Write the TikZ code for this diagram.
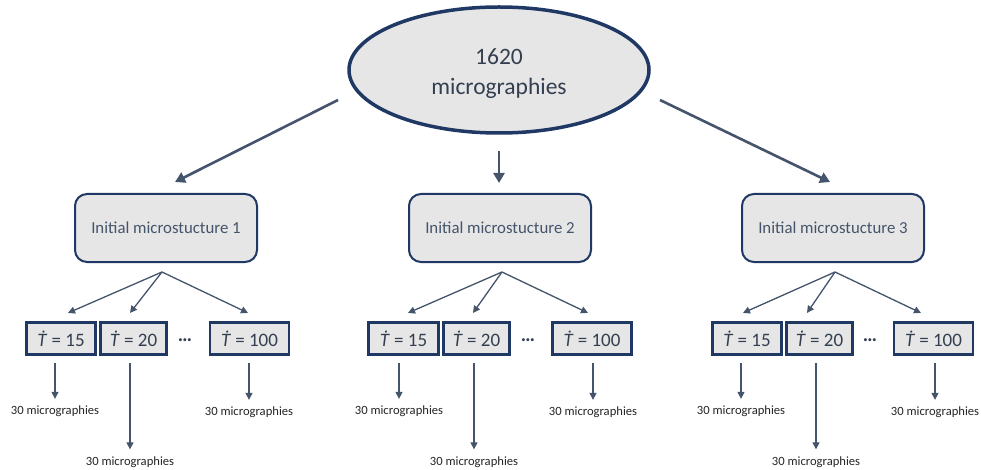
\documentclass[tikz,border=0pt]{standalone}
\usepackage{fontspec}
\setmainfont{Carlito}
\usetikzlibrary{arrows.meta,shapes.geometric,calc}
\definecolor{navy}{HTML}{1F3864}
\definecolor{slate}{HTML}{44546A}
\definecolor{boxfill}{HTML}{E7E6E6}
\definecolor{txt}{HTML}{333F50}
\begin{document}
\begin{tikzpicture}[x=1pt,y=-1pt,
 bigarrow/.style={slate, line width=2.6pt, -{Triangle[length=10pt,width=11pt]}},
 thinarrow/.style={slate, line width=1.3pt, -{Triangle[length=7pt,width=7pt]}},
 topnode/.style={ellipse, draw=navy, line width=3.5pt, fill=boxfill, minimum width=300pt, minimum height=126pt},
 toptext/.style={align=center, text=txt, font=\fontsize{23.5}{30}\selectfont},
 initbox/.style={draw=navy, line width=2pt, rounded corners=12pt, fill=boxfill, minimum width=182pt, minimum height=68pt, text=slate, font=\fontsize{16.8}{20}\selectfont},
 ratebox/.style={draw=navy, line width=2.6pt, fill=boxfill, minimum height=32.5pt, inner sep=0pt, text=txt, font=\fontsize{19}{22}\selectfont},
 lbl/.style={font=\fontsize{12.6}{15}\selectfont, text=black!85, inner sep=0pt},
 dotsnode/.style={font=\fontsize{20}{22}\selectfont\bfseries, text=txt, inner sep=0pt}]
\useasboundingbox (0,0) rectangle (981,470);
\fill[white] (0,0) rectangle (981,470);

% root
\node[topnode] (root) at (499,70) {};
\node[toptext] (roottext) at (499,74) {1620\\micrographies};

% initial boxes
\node[initbox] (i1) at (166,228) {Initial microstucture 1};
\node[initbox] (i2) at (500,228) {Initial microstucture 2};
\node[initbox] (i3) at (833,228) {Initial microstucture 3};

% big arrows
\coordinate (s1) at (338,100);
\coordinate (s3) at (660,100);
\draw[bigarrow] (s1) -- ($(i1.north)+(9,-11)$);
\draw[bigarrow] ($(root.south)+(0,16)$) -- ($(i2.north)+(-1,-10)$);
\draw[bigarrow] (s3) -- ($(i3.north)+(-3,-11)$);

% rate boxes
\foreach \g/\a/\b/\c in {1/61/133.5/249.5, 2/403.5/476.5/592, 3/747/819.5/933.5}{
  \node[ratebox, minimum width=69.5pt] (t\g1) at (\a,338.5) {\textit{Ṫ} = 15};
  \node[ratebox, minimum width=66.5pt] (t\g2) at (\b,338.5) {\textit{Ṫ} = 20};
  \node[ratebox, minimum width=79pt] (t\g3) at (\c,338.5) {\textit{Ṫ} = 100};
}
\node[dotsnode] (d1) at (185,340) {…};
\node[dotsnode] (d2) at (528,340) {…};
\node[dotsnode] (d3) at (870,340) {…};

% fans
\coordinate (f1) at (162,272);
\coordinate (f2) at (502,272);
\coordinate (f3) at (835,272);
\draw[thinarrow] (f1) -- ($(t11.north)+(7,-8)$);
\draw[thinarrow] (f1) -- ($(t12.north)+(-3.5,-8)$);
\draw[thinarrow] (f1) -- ($(t13.north)+(-1.5,-8)$);
\draw[thinarrow] (f2) -- ($(t21.north)+(4.5,-8)$);
\draw[thinarrow] (f2) -- ($(t22.north)+(-3.5,-8)$);
\draw[thinarrow] (f2) -- ($(t23.north)+(-4,-8)$);
\draw[thinarrow] (f3) -- ($(t31.north)+(-4,-8)$);
\draw[thinarrow] (f3) -- ($(t32.north)+(-12.5,-8)$);
\draw[thinarrow] (f3) -- ($(t33.north)+(-12.5,-8)$);

% labels
\foreach \g/\a/\b/\c in {1/55/130/249, 2/399/474/593, 3/741/816/935}{
  \node[lbl] (l\g1) at (\a,411.5) {30 micrographies};
  \node[lbl] (l\g2) at (\b,462) {30 micrographies};
  \node[lbl] (l\g3) at (\c,412.5) {30 micrographies};
  \draw[thinarrow] ($(l\g1.north |- t\g1.south)+(0,7)$) -- ($(l\g1.north)+(0,-7)$);
  \draw[thinarrow] ($(l\g2.north |- t\g2.south)+(0,7)$) -- ($(l\g2.north)+(0,-7)$);
  \draw[thinarrow] ($(l\g3.north |- t\g3.south)+(0,7)$) -- ($(l\g3.north)+(0,-7)$);
}
\end{tikzpicture}
\end{document}
